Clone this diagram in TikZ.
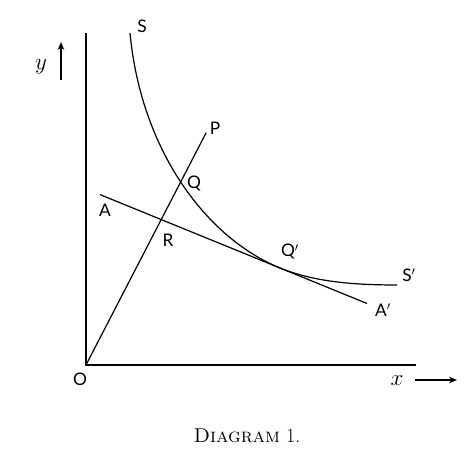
\documentclass[tikz,border=0pt]{standalone}
\usepackage{fontspec}
\newfontfamily\lblfont{Lato}
\usetikzlibrary{arrows.meta,positioning}

\begin{document}
\begin{tikzpicture}[x=0.75pt, y=0.75pt,
        line/.style={line width=0.9pt},
        arrow/.style={-{Stealth[length=6pt,width=5pt]}, line width=0.9pt},
        lbl/.style={font=\lblfont\fontsize{13}{15}\selectfont, inner sep=0pt},
        axlbl/.style={font=\fontsize{17}{19}\selectfont, inner sep=0pt},
        caption/.style={font=\fontsize{15}{17}\selectfont, inner sep=0pt},
      ]
      \useasboundingbox (-86,-101) rectangle (386,365);
      % axes
      \coordinate (O) at (0,0);
      \coordinate (ytop) at (0,332);
      \coordinate (xend) at (330,0);
      \draw [line] (ytop) -- (O) -- (xend);
      % ray O P and line A A'
      \coordinate (P) at (120,232);
      \coordinate (A) at (14,170.4);
      \coordinate (A') at (281,61.5);
      \draw [line] (O) -- (P);
      \draw [line] (A) -- (A');
      % curve S S', touching A A' at Q'
      \coordinate (S) at (44,332);
      \coordinate (Qq) at (194,97);
      \coordinate (Ss) at (311,80);
      \draw [line] (S) .. controls (55,215) and (120,127.2) .. (Qq)
                       .. controls (229,82.7) and (270,80) .. (Ss);
      % labels
      \node [lbl] (labS) at (56,339) {S};
      \node [lbl] (labP) at (129,237) {P};
      \node [lbl] (labQ) at (108,181) {Q};
      \node [lbl] (labR) at (82,125) {R};
      \node [lbl] (labA) at (19,155) {A};
      \node [lbl] (labQq) at (204,113) {Q$'$};
      \node [lbl] (labSs) at (323,90) {S$'$};
      \node [lbl] (labAa) at (297,55) {A$'$};
      \node [lbl] (labO) at (-6,-14) {O};
      % axis names
      \node [axlbl] (laby) at (-45,298) {$y$};
      \coordinate (ybot) at (-25,285);
      \coordinate (yup) at (-25,323);
      \draw [arrow] (ybot) -- (yup);
      \node [axlbl] (labx) at (311,-16) {$x$};
      \coordinate (xleft) at (329,-15);
      \coordinate (xright) at (371,-15);
      \draw [arrow] (xleft) -- (xright);
      \node [caption] (cap) at (161,-71) {\textsc{Diagram} 1.};
    \end{tikzpicture}
\end{document}
